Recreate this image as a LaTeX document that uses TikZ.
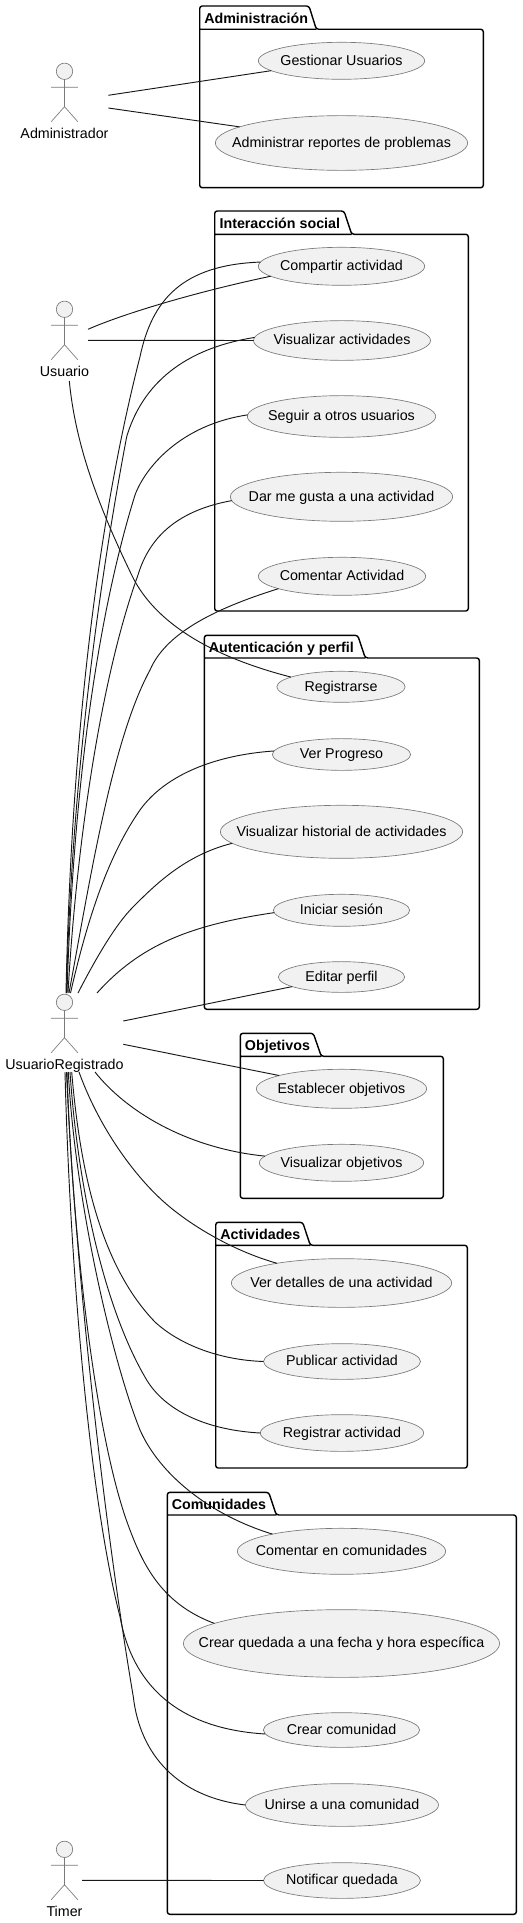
\documentclass[tikz,border=0pt]{standalone}
\usepackage{fontspec}
\setmainfont{Liberation Sans}
\usetikzlibrary{shapes.geometric}
\definecolor{ucfill}{HTML}{F1F1F1}
\definecolor{ink}{HTML}{181818}
\newcommand{\uctext}[1]{\smash{\makebox[0pt]{\raisebox{-3.3pt}{#1}}}}
\tikzset{
  uc/.style 2 args={ellipse,draw=black!52,line width=0.5pt,fill=ucfill,inner sep=0pt,outer sep=0pt,
    minimum width=#1*0.75pt,minimum height=#2*0.75pt,font=\fontsize{10.7}{12}\selectfont},
  pkg/.style={draw=black,line width=1.05pt,rounded corners=1.9pt},
  pkgname/.style={anchor=base west,inner sep=0pt,font=\fontsize{10.7}{12}\selectfont\bfseries},
  actorname/.style={anchor=base,inner sep=0pt,font=\fontsize{10.7}{12}\selectfont},
  head/.style={circle,draw=black!52,line width=0.5pt,fill=ucfill,inner sep=0pt,minimum size=12.3pt},
  limb/.style={draw=black!52,line width=0.5pt},
  assoc/.style={draw=ink,line width=0.7pt},
  actorfig/.pic={
    \draw[limb] (0,8.2) -- (0,35.4) (-13.3,16) -- (13.3,16) (0,35.4) -- (-13.3,50.4) (0,35.4) -- (13.3,50.4);
  }
}
\begin{document}
\begin{tikzpicture}[x=0.75pt,y=-0.75pt]
\useasboundingbox (0,0) rectangle (522,1923);
% packages
\draw[pkg] (199.7,6) -- (309,6) -- (316.3,29.3) -- (483.3,29.3) -- (483.3,187.7) -- (199.7,187.7) -- cycle (199.7,29.3) -- (316.3,29.3);
\node[pkgname] (pAdm) at (204,23.3) {Administración};
\draw[pkg] (214.7,211) -- (344,211) -- (351.7,234.3) -- (468.3,234.3) -- (468.3,611) -- (214.7,611) -- cycle (214.7,234.3) -- (351.7,234.3);
\node[pkgname] (pInt) at (219.3,228.3) {Interacción social};
\draw[pkg] (204.3,635.3) -- (357.7,635.3) -- (365.3,658) -- (479.3,658) -- (479.3,1009.3) -- (204.3,1009.3) -- cycle (204.3,658) -- (365.3,658);
\node[pkgname] (pAut) at (208.5,652.5) {Autenticación y perfil};
\draw[pkg] (240.3,1033.3) -- (313.3,1033.3) -- (321.3,1056.3) -- (443.3,1056.3) -- (443.3,1198.3) -- (240.3,1198.3) -- cycle (240.3,1056.3) -- (321.3,1056.3);
\node[pkgname] (pObj) at (244.7,1050.3) {Objetivos};
\draw[pkg] (215.7,1222.3) -- (302.7,1222.3) -- (310.3,1245.3) -- (467.3,1245.3) -- (467.3,1468) -- (215.7,1468) -- cycle (215.7,1245.3) -- (310.3,1245.3);
\node[pkgname] (pAct) at (220,1239.3) {Actividades};
\draw[pkg] (167.3,1492.3) -- (268.7,1492.3) -- (276.3,1515) -- (516.3,1515) -- (516.3,1914.3) -- (167.3,1914.3) -- cycle (167.3,1515) -- (276.3,1515);
\node[pkgname] (pCom) at (171.5,1509.3) {Comunidades};
% use cases
\node[uc={166.3}{37}] (gest) at (341.5,60.8) {\uctext{Gestionar Usuarios}};
\node[uc={252.3}{54.7}] (admr) at (341.5,143) {\uctext{Administrar reportes de problemas}};
\node[uc={166.3}{38}] (comp) at (341.5,266.3) {\uctext{Compartir actividad}};
\node[uc={177}{39.7}] (visa) at (342,340.5) {\uctext{Visualizar actividades}};
\node[uc={188.3}{41.7}] (segu) at (341.5,416.5) {\uctext{Seguir a otros usuarios}};
\node[uc={222.3}{49}] (darg) at (341.5,496.8) {\uctext{Dar me gusta a una actividad}};
\node[uc={167.3}{38}] (coma) at (342,576.3) {\uctext{Comentar Actividad}};
\node[uc={128.3}{31}] (regi) at (341,686.8) {\uctext{Registrarse}};
\node[uc={138.3}{31.7}] (verp) at (341.5,754.5) {\uctext{Ver Progreso}};
\node[uc={242.3}{53}] (hist) at (341.5,831.8) {\uctext{Visualizar historial de actividades}};
\node[uc={136.3}{32}] (inic) at (341.5,910.3) {\uctext{Iniciar sesión}};
\node[uc={126.3}{30.7}] (edit) at (341.5,977) {\uctext{Editar perfil}};
\node[uc={170.3}{39}] (esta) at (341.5,1088.8) {\uctext{Establecer objetivos}};
\node[uc={164.3}{37}] (viso) at (341.5,1162.8) {\uctext{Visualizar objetivos}};
\node[uc={220.3}{48.7}] (verd) at (341.5,1283) {\uctext{Ver detalles de una actividad}};
\node[uc={157}{35.7}] (publ) at (342,1361.5) {\uctext{Publicar actividad}};
\node[uc={163.3}{36.7}] (rega) at (342,1433) {\uctext{Registrar actividad}};
\node[uc={208.3}{46}] (comc) at (341.5,1551.3) {\uctext{Comentar en comunidades}};
\node[uc={316.3}{67.7}] (qued) at (341.5,1643.5) {\uctext{Crear quedada a una fecha y hora específica}};
\node[uc={156.3}{34.7}] (crea) at (341.5,1730) {\uctext{Crear comunidad}};
\node[uc={193}{42.7}] (unir) at (342,1805) {\uctext{Unirse a una comunidad}};
\node[uc={157}{35.7}] (noti) at (342,1880.5) {\uctext{Notificar quedada}};
% actors
\pic at (64.5,71.3) {actorfig};
\node[head] (hAdm) at (64.5,71.3) {};
\node[actorname] (aAdm) at (64.5,138.3) {Administrador};
\pic at (64.5,309.3) {actorfig};
\node[head] (hUsu) at (64.5,309.3) {};
\node[actorname] (aUsu) at (64.5,376.3) {Usuario};
\pic at (64.5,1002.3) {actorfig};
\node[head] (hReg) at (64.5,1002.3) {};
\node[actorname] (aReg) at (64.5,1069.3) {UsuarioRegistrado};
\pic at (64.5,1849.3) {actorfig};
\node[head] (hTim) at (64.5,1849.3) {};
\node[actorname] (aTim) at (64.5,1916.3) {Timer};
% free ends next to the actors
\coordinate (fA1) at (108.3,95.3);
\coordinate (fA2) at (108.3,108);
\coordinate (fU1) at (88,329.3);
\coordinate (fU2) at (88,340.3);
\coordinate (fU3) at (69.3,381);
\coordinate (fT1) at (82,1880.3);
\coordinate (up1) at (66,993);
\coordinate (up2) at (66.5,993);
\coordinate (up3) at (67,993);
\coordinate (up4) at (68,993);
\coordinate (up5) at (69,993);
\coordinate (up6) at (70.5,993);
\coordinate (up7) at (78,993);
\coordinate (up8) at (97,993);
\coordinate (rt1) at (123.3,1021);
\coordinate (rt2) at (123.3,1044.3);
\coordinate (dn1) at (95,1072);
\coordinate (dn2) at (79,1072);
\coordinate (dn3) at (71.7,1072);
\coordinate (dn4) at (70,1072);
\coordinate (dn5) at (68.3,1072);
\coordinate (dn6) at (67,1072);
\coordinate (dn7) at (66.5,1072);
\coordinate (dn8) at (65,1072);
% connectors
\draw[assoc] (fA1) -- (gest.188.6);
\draw[assoc] (fA2) -- (admr.171.3);
\draw[assoc] (fU1) .. controls (125,313) and (200,291) .. (comp.188.5);
\draw[assoc] (fU2) -- (visa.180);
\draw[assoc] (fU3) .. controls (75,440) and (95,500) .. (133.3,578.3) .. controls (155,620) and (205,655) .. (regi.169.1);
\draw[assoc] (up1) .. controls (70,800) and (88,560) .. (140,356.7) .. controls (152,300) and (182,265) .. (comp.177.5);
\draw[assoc] (up2) .. controls (70,830) and (90,630) .. (126.7,436.7) .. controls (140,392) and (175,350) .. (visa.178.4);
\draw[assoc] (up3) .. controls (72,830) and (90,640) .. (135,495) .. controls (145,468) and (180,425) .. (segu.179.4);
\draw[assoc] (up4) .. controls (76,850) and (100,680) .. (138,575) .. controls (150,535) and (180,510) .. (darg.182.6);
\draw[assoc] (up5) .. controls (90,880) and (112,740) .. (150,670) .. controls (165,635) and (210,610) .. (coma.191);
\draw[assoc] (up6) .. controls (85,930) and (105,860) .. (140,810) .. controls (165,775) and (215,755) .. (verp.177.3);
\draw[assoc] (up7) .. controls (95,960) and (115,925) .. (133.3,906.7) .. controls (155,885) and (185,855) .. (hist.186.1);
\draw[assoc] (up8) .. controls (140,945) and (190,925) .. (inic.182.6);
\draw[assoc] (rt1) -- (edit.191.2);
\draw[assoc] (rt2) -- (esta.168.8);
\draw[assoc] (dn1) .. controls (125,1110) and (185,1148) .. (viso.175.8);
\draw[assoc] (dn2) .. controls (100,1130) and (135,1175) .. (160,1198.3) .. controls (185,1222) and (230,1250) .. (verd.163.5);
\draw[assoc] (dn3) .. controls (80,1170) and (100,1265) .. (155,1322) .. controls (180,1345) and (220,1360) .. (publ.180.6);
\draw[assoc] (dn4) .. controls (78,1190) and (105,1310) .. (146.7,1380) .. controls (165,1410) and (205,1430) .. (rega.180.9);
\draw[assoc] (dn5) .. controls (75,1200) and (112,1360) .. (140,1430) .. controls (160,1475) and (210,1515) .. (comc.166.9);
\draw[assoc] (dn6) .. controls (72,1230) and (95,1440) .. (130,1530) .. controls (145,1570) and (165,1605) .. (qued.171.8);
\draw[assoc] (dn7) .. controls (75,1270) and (105,1530) .. (133.3,1696.7) .. controls (140,1755) and (178,1797) .. (unir.180.2);
\draw[assoc] (dn8) .. controls (70,1270) and (90,1500) .. (120,1616.7) .. controls (130,1672) and (165,1728) .. (crea.183.3);
\draw[assoc] (fT1) -- (noti.180);
\end{tikzpicture}
\end{document}
